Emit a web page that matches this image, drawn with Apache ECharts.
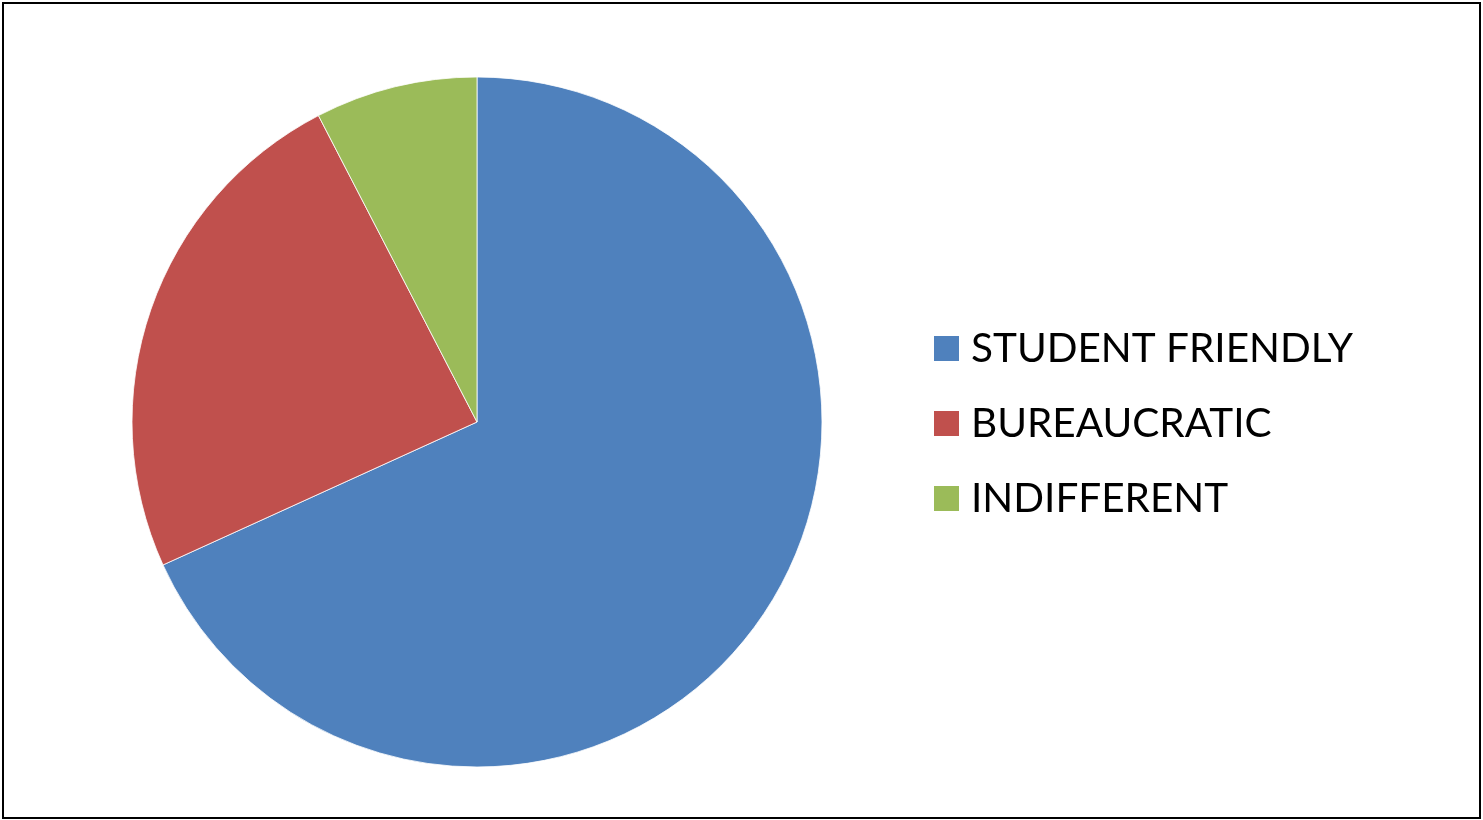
<!DOCTYPE html>
<html>
<head>
<meta charset="utf-8">
<script src="https://cdn.jsdelivr.net/npm/echarts@6/dist/echarts.min.js"></script>
<style>
  html, body { margin: 0; padding: 0; background: #fff; }
  #chart { width: 1483px; height: 820px; }
</style>
</head>
<body>
<div id="chart"></div>
<script>
// 分类和数值
const categories = ['STUDENT FRIENDLY', 'BUREAUCRATIC', 'INDIFFERENT']
const values = [68.2, 24.2, 7.6]
const colors = ['#4F81BD', '#C0504D', '#9BBB59']

const pieData = categories.map((name, i) => ({ name, value: values[i] }))

const myChart = echarts.init(document.getElementById('chart'))
const option = {
  animation: false,
  color: colors,
  graphic: [
    {
      type: 'rect',
      shape: { x: 3, y: 3, width: 1477, height: 815 },
      style: { fill: 'none', stroke: '#000', lineWidth: 2 },
      silent: true,
    },
  ],
  legend: {
    orient: 'vertical',
    left: 927,
    top: 323,
    icon: 'rect',
    itemWidth: 27, // 图例方块
    itemHeight: 27,
    itemGap: 34,
    textStyle: {
      color: '#000',
      fontSize: 40.5,
      fontFamily: 'Lato',
      padding: [0, 0, 0, 6],
    },
    data: categories,
  },
  series: [
    {
      type: 'pie',
      radius: 345,
      center: [477, 422],
      startAngle: 90,
      clockwise: true,
      label: { show: false },
      labelLine: { show: false },
      itemStyle: { borderColor: '#fff', borderWidth: 0.8 },
      emphasis: { disabled: true },
      data: pieData,
    },
  ],
}
myChart.setOption(option)
</script>
</body>
</html>
